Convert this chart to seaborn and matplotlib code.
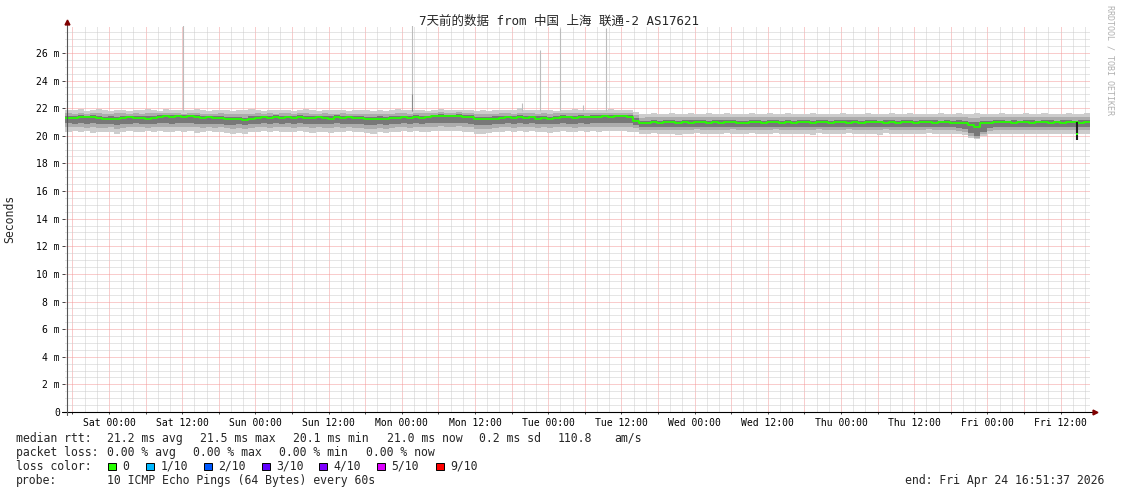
import pandas as pd
import numpy as np
import seaborn as sns
import matplotlib
matplotlib.use("Agg")
import matplotlib.pyplot as plt
import matplotlib.dates as mdates
from matplotlib.ticker import MultipleLocator, FuncFormatter
from matplotlib.patches import Rectangle

# --------------------------- SETTINGS ---------------------------
sns.set_theme(style="white")
plt.rcParams['font.family'] = ['DejaVu Sans Mono', 'Noto Sans CJK SC']

W, H = 1121, 494

# --------------------------- DATA (hourly, ms) ---------------------------
START = pd.Timestamp("2026-04-17 16:51:37")
END = pd.Timestamp("2026-04-24 16:51:37")

MEDIAN_RTT = [
    21.30, 21.32, 21.35, 21.33, 21.38, 21.30, 21.22, 21.25, 21.20, 21.28, 21.33, 21.30,
    21.27, 21.25, 21.30, 21.38, 21.40, 21.38, 21.42, 21.36, 21.40, 21.35, 21.30, 21.33,
    21.28, 21.30, 21.22, 21.18, 21.20, 21.16, 21.25, 21.30, 21.33, 21.28, 21.35, 21.30,
    21.33, 21.27, 21.35, 21.30, 21.28, 21.33, 21.30, 21.25, 21.35, 21.30, 21.33, 21.28,
    21.30, 21.24, 21.22, 21.25, 21.20, 21.27, 21.30, 21.33, 21.28, 21.35, 21.30, 21.33,
    21.40, 21.45, 21.42, 21.40, 21.45, 21.38, 21.35, 21.22, 21.18, 21.20, 21.25, 21.30,
    21.33, 21.28, 21.36, 21.30, 21.33, 21.25, 21.30, 21.22, 21.30, 21.35, 21.33, 21.30,
    21.36, 21.33, 21.38, 21.35, 21.40, 21.37, 21.42, 21.40, 21.38, 21.10, 20.92, 20.95,
    20.97, 20.95, 21.00, 20.97, 20.95, 20.98, 20.96, 21.00, 20.97, 20.95, 20.98, 20.96,
    20.97, 21.00, 20.96, 20.95, 20.98, 20.97, 20.95, 20.97, 21.00, 20.96, 20.97, 20.95,
    20.98, 20.97, 20.96, 21.00, 20.97, 20.95, 20.97, 20.98, 20.96, 20.97, 20.95, 20.98,
    20.97, 21.00, 20.96, 20.97, 20.95, 20.98, 20.97, 20.96, 21.00, 20.97, 20.96, 20.98,
    20.97, 20.95, 20.95, 20.92, 20.80, 20.66, 20.90, 20.95, 20.97, 20.98, 20.97, 20.95,
    20.97, 21.00, 20.96, 20.97, 20.98, 20.95, 20.97, 20.96, 20.98, 20.97, 20.96, 20.97,
]

MAX_RTT = [
    21.88, 21.85, 21.92, 21.80, 21.86, 21.95, 21.84, 21.82, 21.90, 21.86, 21.80, 21.88,
    21.85, 21.92, 21.87, 21.83, 21.96, 21.90, 21.86, 21.84, 21.88, 21.93, 21.85, 21.80,
    21.86, 21.90, 21.84, 21.82, 21.88, 21.85, 21.92, 21.86, 21.80, 21.87, 21.84, 21.90,
    21.86, 21.83, 21.88, 21.92, 21.85, 21.80, 21.86, 21.90, 21.84, 21.88, 21.82, 21.86,
    21.90, 21.85, 21.80, 21.86, 21.83, 21.88, 21.95, 21.86, 21.84, 21.90, 21.86, 21.82,
    21.88, 21.92, 21.86, 21.90, 21.85, 21.88, 21.84, 21.80, 21.86, 21.83, 21.88, 21.85,
    21.90, 21.86, 22.00, 21.84, 21.88, 21.85, 21.90, 21.86, 21.82, 21.88, 21.85, 21.92,
    21.86, 21.84, 21.90, 21.88, 21.85, 21.92, 21.88, 21.86, 21.84,
    21.75,
    21.60, 21.58, 21.62, 21.55, 21.60, 21.65, 21.58, 21.56, 21.62, 21.60, 21.55, 21.63,
    21.58, 21.60, 21.64, 21.57, 21.60, 21.55, 21.62, 21.58, 21.60, 21.66, 21.57, 21.60,
    21.62, 21.56, 21.60, 21.58, 21.63, 21.60, 21.55, 21.60, 21.58, 21.64, 21.60, 21.57,
    21.60, 21.62, 21.56, 21.60, 21.58, 21.63, 21.60, 21.57, 21.62, 21.60, 21.55, 21.60,
    21.58, 21.62, 21.60, 21.56, 21.64, 21.60, 21.58, 21.62, 21.60, 21.57, 21.60, 21.63,
    21.58, 21.60, 21.56, 21.62, 21.60, 21.58, 21.64, 21.60, 21.57, 21.60, 21.62, 21.60,
    21.58, 21.62,
]

HI_RTT = [
    21.62, 21.60, 21.65, 21.58, 21.63, 21.66, 21.60, 21.58, 21.62, 21.64, 21.58, 21.62,
    21.60, 21.65, 21.62, 21.63, 21.68, 21.65, 21.64, 21.60, 21.66, 21.65, 21.60, 21.58,
    21.60, 21.62, 21.58, 21.55, 21.58, 21.56, 21.60, 21.62, 21.58, 21.63, 21.60, 21.64,
    21.62, 21.58, 21.64, 21.62, 21.60, 21.58, 21.62, 21.60, 21.58, 21.63, 21.60, 21.58,
    21.60, 21.58, 21.55, 21.58, 21.55, 21.60, 21.62, 21.64, 21.60, 21.65, 21.62, 21.63,
    21.66, 21.70, 21.68, 21.66, 21.70, 21.65, 21.62, 21.58, 21.55, 21.58, 21.60, 21.62,
    21.64, 21.60, 21.65, 21.62, 21.63, 21.58, 21.62, 21.58, 21.62, 21.65, 21.63, 21.62,
    21.65, 21.63, 21.66, 21.64, 21.66, 21.65, 21.68, 21.66, 21.64,
    21.50,
    21.32, 21.34, 21.36, 21.33, 21.38, 21.35, 21.34, 21.36, 21.35, 21.38, 21.35, 21.33,
    21.36, 21.35, 21.36, 21.38, 21.34, 21.33, 21.36, 21.35, 21.33, 21.35, 21.38, 21.34,
    21.35, 21.33, 21.36, 21.35, 21.33, 21.38, 21.35, 21.34, 21.35, 21.36, 21.38, 21.35,
    21.33, 21.36, 21.35, 21.34, 21.38, 21.35, 21.33, 21.36, 21.35, 21.34, 21.36, 21.38,
    21.35, 21.34, 21.33, 21.35, 21.34, 21.33, 21.30, 21.28, 21.33, 21.35, 21.36, 21.35,
    21.34, 21.35, 21.33, 21.36, 21.35, 21.34, 21.38, 21.35, 21.34, 21.36, 21.35, 21.33,
    21.36, 21.35,
]

CORE_HI = [
    21.45, 21.46, 21.48, 21.46, 21.50, 21.44, 21.38, 21.40, 21.36, 21.42, 21.46, 21.44,
    21.42, 21.40, 21.44, 21.50, 21.52, 21.50, 21.54, 21.48, 21.52, 21.48, 21.44, 21.46,
    21.42, 21.44, 21.38, 21.34, 21.36, 21.32, 21.40, 21.44, 21.46, 21.42, 21.48, 21.44,
    21.46, 21.42, 21.48, 21.44, 21.42, 21.46, 21.44, 21.40, 21.48, 21.44, 21.46, 21.42,
    21.44, 21.38, 21.36, 21.40, 21.36, 21.42, 21.44, 21.46, 21.42, 21.48, 21.44, 21.46,
    21.52, 21.56, 21.54, 21.52, 21.56, 21.50, 21.48, 21.36, 21.34, 21.36, 21.40, 21.44,
    21.46, 21.42, 21.48, 21.44, 21.46, 21.40, 21.44, 21.38, 21.44, 21.48, 21.46, 21.44,
    21.48, 21.46, 21.50, 21.48, 21.52, 21.50, 21.54, 21.52, 21.50,
    21.30,
    21.08, 21.10, 21.12, 21.10, 21.14, 21.12, 21.10, 21.12, 21.11, 21.14, 21.12, 21.10,
    21.12, 21.11, 21.12, 21.14, 21.10, 21.10, 21.12, 21.12, 21.10, 21.12, 21.14, 21.10,
    21.12, 21.10, 21.12, 21.12, 21.10, 21.14, 21.12, 21.10, 21.12, 21.12, 21.14, 21.12,
    21.10, 21.12, 21.12, 21.10, 21.14, 21.12, 21.10, 21.12, 21.12, 21.10, 21.12, 21.14,
    21.12, 21.10, 21.12, 21.10, 21.12, 21.10, 21.02, 20.98, 21.06, 21.10, 21.12, 21.12,
    21.10, 21.12, 21.10, 21.12, 21.12, 21.10, 21.14, 21.12, 21.10, 21.12, 21.12, 21.10,
    21.12, 21.12,
]

CORE_LO = [
    20.90, 20.88, 20.92, 20.86, 20.90, 20.85, 20.82, 20.86, 20.80, 20.85, 20.88, 20.90,
    20.86, 20.84, 20.88, 20.92, 20.90, 20.88, 20.94, 20.90, 20.92, 20.88, 20.85, 20.88,
    20.84, 20.86, 20.80, 20.78, 20.82, 20.76, 20.84, 20.88, 20.90, 20.86, 20.90, 20.88,
    20.90, 20.85, 20.90, 20.88, 20.84, 20.88, 20.86, 20.82, 20.90, 20.86, 20.88, 20.84,
    20.86, 20.80, 20.78, 20.84, 20.80, 20.86, 20.88, 20.90, 20.85, 20.90, 20.88, 20.90,
    20.94, 20.96, 20.92, 20.94, 20.96, 20.90, 20.88, 20.80, 20.76, 20.80, 20.84, 20.88,
    20.90, 20.86, 20.90, 20.88, 20.90, 20.84, 20.88, 20.82, 20.88, 20.90, 20.88, 20.86,
    20.90, 20.88, 20.92, 20.90, 20.94, 20.92, 20.94, 20.92, 20.90,
    20.75,
    20.60, 20.62, 20.64, 20.60, 20.65, 20.62, 20.60, 20.63, 20.62, 20.66, 20.62, 20.60,
    20.63, 20.62, 20.64, 20.66, 20.60, 20.62, 20.64, 20.62, 20.60, 20.63, 20.66, 20.60,
    20.62, 20.60, 20.64, 20.62, 20.60, 20.66, 20.62, 20.60, 20.63, 20.62, 20.66, 20.62,
    20.60, 20.64, 20.62, 20.60, 20.66, 20.62, 20.60, 20.63, 20.62, 20.60, 20.64, 20.66,
    20.62, 20.60, 20.63, 20.62, 20.58, 20.50, 20.20, 19.95, 20.30, 20.58, 20.62, 20.64,
    20.60, 20.62, 20.63, 20.60, 20.64, 20.62, 20.60, 20.63, 20.62, 20.60, 20.64, 20.62,
    20.60, 20.62,
]

LO_RTT = [
    20.62, 20.60, 20.65, 20.58, 20.62, 20.56, 20.55, 20.60, 20.52, 20.58, 20.62, 20.64,
    20.60, 20.58, 20.62, 20.66, 20.64, 20.60, 20.66, 20.62, 20.65, 20.60, 20.58, 20.62,
    20.58, 20.60, 20.55, 20.50, 20.55, 20.48, 20.56, 20.60, 20.64, 20.58, 20.62, 20.60,
    20.62, 20.58, 20.63, 20.60, 20.56, 20.62, 20.58, 20.55, 20.62, 20.58, 20.60, 20.56,
    20.58, 20.52, 20.50, 20.56, 20.52, 20.58, 20.60, 20.64, 20.58, 20.62, 20.60, 20.62,
    20.66, 20.68, 20.64, 20.66, 20.68, 20.62, 20.60, 20.52, 20.48, 20.52, 20.56, 20.60,
    20.62, 20.58, 20.62, 20.60, 20.62, 20.56, 20.60, 20.55, 20.60, 20.62, 20.60, 20.58,
    20.62, 20.60, 20.64, 20.62, 20.66, 20.64, 20.66, 20.64, 20.62,
    20.55,
    20.40, 20.42, 20.44, 20.40, 20.45, 20.42, 20.40, 20.43, 20.42, 20.46, 20.42, 20.40,
    20.43, 20.42, 20.44, 20.46, 20.40, 20.42, 20.44, 20.42, 20.40, 20.43, 20.46, 20.40,
    20.42, 20.40, 20.44, 20.42, 20.40, 20.46, 20.42, 20.40, 20.43, 20.42, 20.46, 20.42,
    20.40, 20.44, 20.42, 20.40, 20.46, 20.42, 20.40, 20.43, 20.42, 20.40, 20.44, 20.46,
    20.42, 20.40, 20.43, 20.42, 20.38, 20.30, 20.00, 19.85, 20.10, 20.38, 20.42, 20.44,
    20.40, 20.42, 20.43, 20.40, 20.44, 20.42, 20.40, 20.43, 20.42, 20.40, 20.44, 20.42,
    20.40, 20.42,
]

MIN_RTT = [
    20.30, 20.35, 20.25, 20.32, 20.20, 20.28, 20.24, 20.30, 20.15, 20.28, 20.34, 20.30,
    20.26, 20.32, 20.28, 20.35, 20.30, 20.25, 20.34, 20.28, 20.32, 20.22, 20.30, 20.34,
    20.28, 20.30, 20.20, 20.12, 20.22, 20.10, 20.25, 20.30, 20.34, 20.28, 20.32, 20.26,
    20.30, 20.24, 20.32, 20.28, 20.22, 20.30, 20.26, 20.18, 20.30, 20.25, 20.32, 20.24,
    20.28, 20.20, 20.15, 20.24, 20.18, 20.28, 20.30, 20.34, 20.25, 20.32, 20.30, 20.28,
    20.36, 20.38, 20.32, 20.35, 20.38, 20.30, 20.25, 20.15, 20.10, 20.18, 20.25, 20.30,
    20.32, 20.26, 20.34, 20.28, 20.32, 20.24, 20.30, 20.22, 20.30, 20.32, 20.28, 20.25,
    20.32, 20.30, 20.34, 20.30, 20.36, 20.32, 20.35, 20.32, 20.30,
    20.30,
    20.12, 20.15, 20.18, 20.10, 20.16, 20.14, 20.08, 20.15, 20.12, 20.18, 20.14, 20.10,
    20.15, 20.12, 20.18, 20.16, 20.10, 20.14, 20.18, 20.12, 20.10, 20.15, 20.18, 20.12,
    20.14, 20.10, 20.16, 20.14, 20.08, 20.18, 20.15, 20.10, 20.14, 20.12, 20.18, 20.14,
    20.10, 20.16, 20.12, 20.08, 20.18, 20.14, 20.10, 20.15, 20.12, 20.10, 20.16, 20.18,
    20.14, 20.10, 20.15, 20.12, 20.10, 20.05, 19.85, 19.75, 19.95, 20.10, 20.14, 20.16,
    20.12, 20.15, 20.14, 20.10, 20.16, 20.14, 20.10, 20.15, 20.12, 20.10, 20.16, 20.14,
    20.12, 20.10,
]

# single outliers (hours after start, values in ms)
SPIKE_HOURS = [19.3, 56.9, 74.8, 77.8, 81.0, 84.9, 88.6]
SPIKE_TOP = [28.0, 28.0, 22.4, 26.2, 27.8, 22.2, 27.8]
DARK_SPIKE_HOURS = [56.9]
DARK_SPIKE_TOP = [23.0]
DIP_HOURS = [165.9]
DIP_LOW = [19.7]
DIP_HIGH = [21.0]
DIP_MEDIAN = [20.1]

LOSS_LABELS = ['0', '1/10', '2/10', '3/10', '4/10', '5/10', '9/10']
LOSS_COLORS = ['#26ff00', '#00b8ff', '#0059ff', '#5e00ff', '#7e00ff', '#dd00ff', '#ff0000']

TITLE = "7天前的数据 from 中国 上海 联通-2 AS17621"

# --------------------------- FIGURE ---------------------------
fig = plt.figure(figsize=(W / 100, H / 100), dpi=100)
fig.patch.set_facecolor('white')
ax = fig.add_axes([65.4 / W, 1 - 412 / H, 1024.8 / W, 386.3 / H])
ax.set_facecolor('white')


def ext(v):
    return np.append(np.asarray(v, dtype=float), v[-1])


t = START + pd.to_timedelta(np.arange(len(MEDIAN_RTT) + 1), unit="h")

# smoke
for lo, hi, col in [(MIN_RTT, MAX_RTT, '#cdcdcd'),
                    (LO_RTT, HI_RTT, '#acacac'),
                    (CORE_LO, CORE_HI, '#787878')]:
    ax.fill_between(t, ext(lo), ext(hi), step='post', color=col, lw=0, zorder=2)

sp_t = START + pd.to_timedelta(SPIKE_HOURS, unit="h")
ax.vlines(sp_t, 21.8, SPIKE_TOP, color='#bcbcbc', lw=0.8, zorder=2)
dk_t = START + pd.to_timedelta(DARK_SPIKE_HOURS, unit="h")
ax.vlines(dk_t, 21.8, DARK_SPIKE_TOP, color='#8a8a8a', lw=0.8, zorder=2)
dp_t = START + pd.to_timedelta(DIP_HOURS, unit="h")
ax.vlines(dp_t, DIP_LOW, DIP_HIGH, color='#202020', lw=1.5, zorder=5)

# median
sns.lineplot(x=t, y=ext(MEDIAN_RTT), drawstyle='steps-post', color=LOSS_COLORS[0],
             lw=1.3, ax=ax, errorbar=None, zorder=4)
ax.plot(dp_t, DIP_MEDIAN, 's', color=LOSS_COLORS[0], ms=1.8, mew=0, zorder=6)

ax.set_xlim(START, END)
ax.set_ylim(0, 27.97)
ax.set_xlabel('')
ax.set_ylabel('')

# grid
ax.xaxis.set_major_locator(mdates.HourLocator(byhour=range(0, 24, 6)))
ax.xaxis.set_minor_locator(mdates.HourLocator(byhour=range(0, 24, 2)))


def xfmt(v, pos):
    d = mdates.num2date(v)
    return d.strftime('%a %H:%M') if d.hour in (0, 12) else ''


ax.xaxis.set_major_formatter(FuncFormatter(xfmt))
ax.yaxis.set_major_locator(MultipleLocator(2))
ax.yaxis.set_minor_locator(MultipleLocator(0.5))
ax.yaxis.set_major_formatter(FuncFormatter(lambda v, p: '0' if v == 0 else f'{v:.0f} m'))

ax.set_axisbelow(True)
ax.grid(which='major', color='#f59a9a', linestyle=(0, (1, 1)), lw=0.72)
ax.grid(which='minor', color='#cccccc', linestyle=(0, (1, 1)), lw=0.72)

for s in ax.spines.values():
    s.set_visible(False)

ax.tick_params(axis='y', which='major', length=2.2, width=0.7, color='#444444',
               pad=1.8, labelsize=7, labelcolor='black', left=True)
ax.tick_params(axis='x', which='major', length=1.5, width=0.7, color='#444444',
               pad=2.5, labelsize=7, labelcolor='black', bottom=True)
ax.tick_params(which='minor', length=0)

# axes with arrows
ax.plot([-0.003, 1.003], [0, 0], transform=ax.transAxes, color='black', lw=0.8, clip_on=False, zorder=6)
ax.plot([1.0045], [0], '>', transform=ax.transAxes, color='#7f0000', ms=3.5, clip_on=False, zorder=7)
ax.plot([0.0012, 0.0012], [-0.008, 1.004], transform=ax.transAxes, color='#555555', lw=0.8, clip_on=False, zorder=6)
ax.plot([0.0012], [1.0095], '^', transform=ax.transAxes, color='#7f0000', ms=3.5, clip_on=False, zorder=7)

# --------------------------- TEXTS ---------------------------
fs = 8.3


def put(x, y, s, **kw):
    fig.text(x / W, 1 - y / H, s, va='center', fontsize=kw.pop('fontsize', fs), **kw)


fig.text(559 / W, 1 - 21 / H, TITLE, ha='center', va='center', fontsize=9)
fig.text(10 / W, 1 - 219 / H, 'Seconds', rotation=90, ha='center', va='center', fontsize=fs)
fig.text(1110 / W, 1 - 60 / H, 'RRDTOOL / TOBI OETIKER', rotation=270, ha='center', va='center',
         fontsize=6, color='#b0b0b0')

put(16, 438, 'median rtt:')
for x, s in [(107, '21.2 ms avg'), (200, '21.5 ms max'), (293, '20.1 ms min'),
             (387, '21.0 ms now'), (479, '0.2 ms sd'), (558, '110.8'), (614, 'am/s')]:
    put(x, 438, s)

put(16, 452, 'packet loss:')
for x, s in [(107, '0.00 % avg'), (193, '0.00 % max'), (279, '0.00 % min'), (366, '0.00 % now')]:
    put(x, 452, s)

put(16, 466, 'loss color:')
sq_x = [108, 146, 204, 262, 319, 377, 436]
for x, lab, col in zip(sq_x, LOSS_LABELS, LOSS_COLORS):
    fig.patches.append(Rectangle((x / W, 1 - 470 / H), 7.5 / W, 7.5 / H, transform=fig.transFigure,
                                 facecolor=col, edgecolor='black', lw=0.7))
    put(x + 14.5, 466, lab)

put(16, 480, 'probe:')
put(107, 480, '10 ICMP Echo Pings (64 Bytes) every 60s')
put(1104, 480, 'end: Fri Apr 24 16:51:37 2026', ha='right')

fig.savefig('out.png', dpi=100)
